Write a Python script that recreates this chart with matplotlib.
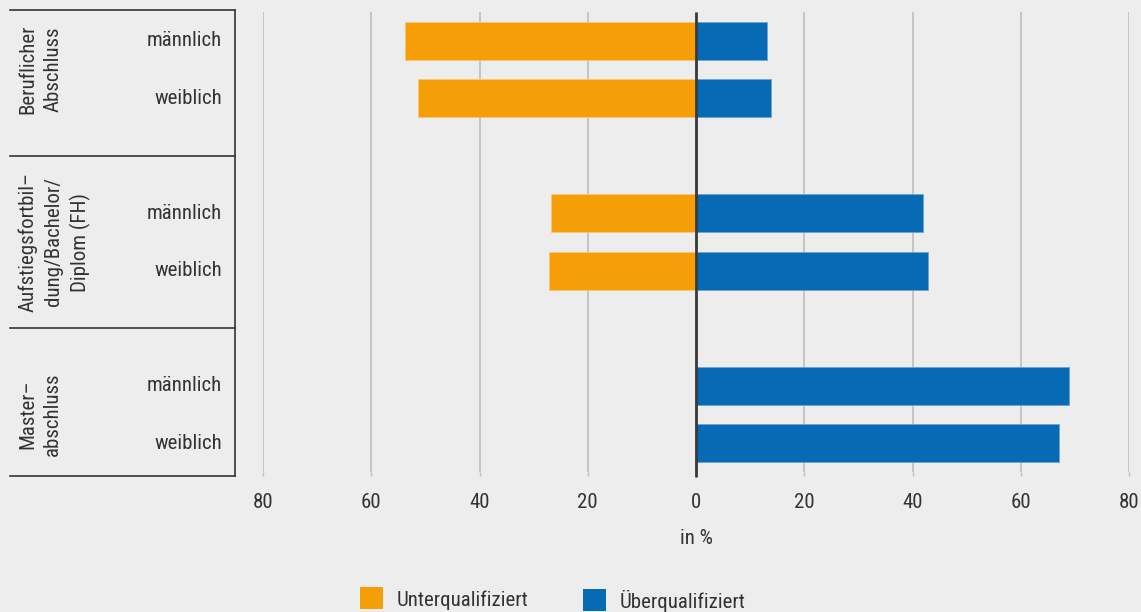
import matplotlib
matplotlib.use("Agg")
import matplotlib.pyplot as plt
from matplotlib.patches import Rectangle
from matplotlib.lines import Line2D
import matplotlib.transforms as mtransforms
from matplotlib import font_manager as fm

# ---- pick a condensed font if one is installed ----
entries = fm.fontManager.ttflist
names = {f.name for f in entries}
FONT = None
FS = 13
STRETCH = "normal"
for cand in ["Roboto Condensed", "Liberation Sans Narrow", "Open Sans Condensed",
             "Noto Sans Condensed", "Arial Narrow"]:
    if cand in names:
        FONT, FS = cand, 15
        break
if FONT is None:
    cond = [f for f in entries if str(f.stretch) in ("condensed", "semi-condensed")
            and f.name in ("DejaVu Sans", "Noto Sans", "Open Sans", "Roboto", "Lato", "Inter")]
    if cond:
        FONT, FS, STRETCH = cond[0].name, 14, "condensed"
if FONT is None:
    FONT, FS = "Roboto", 13
plt.rcParams['font.family'] = [FONT, 'DejaVu Sans']
plt.rcParams['font.stretch'] = STRETCH

# ---- data ----
groups = ["Beruflicher\nAbschluss", "Aufstiegsfortbil–\ndung/Bachelor/\nDiplom (FH)", "Master–\nabschluss"]
sexes = ["männlich", "weiblich"]
under = [53.7, 51.3, 26.8, 27.1, 0.0, 0.0]   # Unterqualifiziert (drawn to the left)
over = [13.2, 13.9, 41.9, 42.8, 68.9, 67.0]  # Überqualifiziert
series_names = ["Unterqualifiziert", "Überqualifiziert"]
xticks = [-80, -60, -40, -20, 0, 20, 40, 60, 80]
xticklabels = ["80", "60", "40", "20", "0", "20", "40", "60", "80"]
xlabel = "in %"

ORANGE = "#F59E07"
BLUE = "#066AB4"
BG = "#EDEDED"
GRID = "#BDBDBD"
DARK = "#3A3A3A"
TEXT = "#333333"

W, H = 1141, 612
fig = plt.figure(figsize=(W / 100, H / 100), dpi=100, facecolor=BG)


def fx(x):
    return x / W


def fy(y):
    return 1 - y / H


# main axes: x from 263 to 1129 px, y from 12 to 472 px
ax = fig.add_axes([fx(263), fy(472), fx(1129) - fx(263), fy(12) - fy(472)])
ax.set_facecolor(BG)
ax.set_xlim(-80, 80)
ax.set_ylim(7.5, -0.5)

positions = []
labels = []
for g in range(len(groups)):
    for s in range(len(sexes)):
        positions.append(g * 3 + s)
        labels.append(sexes[s])

bar_h = 0.66
ax.barh(positions, [-u for u in under], height=bar_h, color=ORANGE,
        edgecolor="#F7C77A", linewidth=0.6, zorder=3)
ax.barh(positions, over, height=bar_h, color=BLUE,
        edgecolor="#6FA2D2", linewidth=0.6, zorder=3)

# grid
ax.set_xticks(xticks)
ax.set_xticklabels(xticklabels, fontsize=FS, color=TEXT)
ax.grid(axis="x", color=GRID, linewidth=1.2, zorder=0)
ax.set_yticks([])
for sp in ax.spines.values():
    sp.set_visible(False)
ax.tick_params(axis="x", length=3, width=1, color=GRID, pad=12)
ax.set_xlabel(xlabel, fontsize=FS, color=TEXT, labelpad=12)

# zero line
ax.plot([0, 0], [-0.5, 7.58], color=DARK, linewidth=2.0, zorder=4, clip_on=False,
        solid_capstyle="butt")

# ---- left panel ----
lc = "#333333"
lw = 1.2
fig.add_artist(Line2D([fx(10), fx(235)], [fy(10), fy(10)], color=lc, lw=lw))
fig.add_artist(Line2D([fx(10), fx(235)], [fy(476), fy(476)], color=lc, lw=lw))
fig.add_artist(Line2D([fx(235), fx(235)], [fy(10), fy(476)], color=lc, lw=lw))

trans = mtransforms.blended_transform_factory(fig.transFigure, ax.transData)
for d in [2, 5]:
    fig.add_artist(Line2D([fx(10), fx(235)], [d, d], color=lc, lw=lw, transform=trans))

for p, lab in zip(positions, labels):
    fig.text(fx(222), p, lab, transform=trans, ha="right", va="center",
             fontsize=FS, color=TEXT)

for g, name in enumerate(groups):
    fig.text(fx(18), g * 3 + 0.5, name, transform=trans, ha="left", va="center",
             rotation=90, multialignment="center", fontsize=FS, color=TEXT,
             linespacing=1.42)

# ---- legend ----
fig.add_artist(Rectangle((fx(360), fy(609)), fx(23), fy(587) - fy(609),
                         transform=fig.transFigure, facecolor=ORANGE, edgecolor="none"))
fig.text(fx(397), fy(600), series_names[0], ha="left", va="center", fontsize=FS, color=TEXT)
fig.add_artist(Rectangle((fx(583), fy(611)), fx(23), fy(589) - fy(611),
                         transform=fig.transFigure, facecolor=BLUE, edgecolor="none"))
fig.text(fx(620), fy(601), series_names[1], ha="left", va="center", fontsize=FS, color=TEXT)

fig.savefig("out.png", dpi=100, facecolor=BG)
